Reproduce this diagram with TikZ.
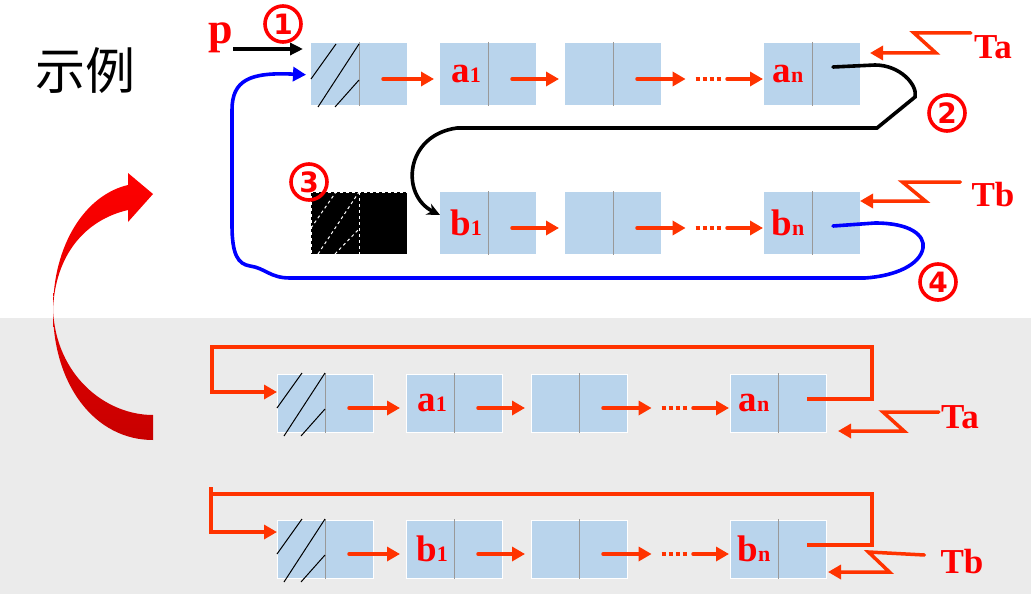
\documentclass[tikz,border=0pt]{standalone}
\usepackage{fontspec}
\setmainfont{Liberation Serif}
\newfontfamily\cjk{Noto Sans CJK SC}
\newfontfamily\numfont{DejaVu Sans}
\usepackage{tikz}
\usetikzlibrary{positioning}
\usetikzlibrary{arrows.meta}
\definecolor{cellblue}{RGB}{185,212,236}
\definecolor{linkred}{RGB}{255,51,0}
\definecolor{bggray}{RGB}{235,235,235}
\definecolor{loopblue}{RGB}{0,0,255}
\definecolor{darkred}{RGB}{200,0,0}
\newcommand\cellname[2]{#1{\fontsize{22}{22}\selectfont #2}}

\begin{document}
\begin{tikzpicture}[x=1pt, y=-1pt,
    cell/.style = {minimum width=96pt, minimum height=62pt, fill=cellblue, inner sep=0pt, outer sep=0pt},
    cellb/.style = {cell, minimum height=58pt, draw=white, line width=1pt},
    tag/.style = {text=red, inner sep=0pt, font=\fontsize{37}{37}\selectfont\bfseries},
    num/.style = {circle, draw=red, line width=3.6pt, minimum size=36pt, inner sep=0pt, text=red, font=\numfont\fontsize{28}{28}\selectfont\bfseries},
    link/.style = {draw=linkred, line width=3.5pt, line cap=round, -{Triangle[length=13pt,width=14pt]}},
    dots/.style = {minimum width=25pt, inner sep=0pt},
    divider/.style = {draw=gray!80, line width=1pt}
  ]
  \useasboundingbox (0,0) rectangle (1031,594);
  \fill[bggray] (0,318) rectangle (1031,594);

  % big curved arrow on the left
  \path[top color=red, middle color=red, bottom color=darkred]
    (128,185) .. controls (85,195) and (53,245) .. (53,310)
    .. controls (53,385) and (95,440) .. (153,440) -- (153,415)
    .. controls (105,415) and (56,375) .. (53,310)
    .. controls (55,255) and (85,220) .. (128,210)
    -- (128,222) -- (153,194) -- (128,173) -- cycle;
  \node[font=\cjk\fontsize{50}{50}\selectfont] (title) at (85,71) {示例};

  % list A and list B
  \node[cell] (h1) at (359,74) {};
  \node[cell, right=33pt of h1] (a1) {};
  \node[cell, right=29pt of a1] (c1) {};
  \node[cell, right=103pt of c1] (n1) {};
  \node[cell, fill=black, draw=white, dashed, line width=1pt] (x3) at (359,223) {};
  \node[cell, right=33pt of x3] (b1) {};
  \node[cell, right=29pt of b1] (c2) {};
  \node[cell, right=103pt of c2] (n2) {};

  % lists after joining
  \node[cellb] (hC) at (325,403) {};
  \node[cellb, right=33pt of hC] (aC) {};
  \node[cellb, right=29pt of aC] (cC) {};
  \node[cellb, right=103pt of cC] (nC) {};
  \node[cellb] (hD) at (325,549) {};
  \node[cellb, right=33pt of hD] (bD) {};
  \node[cellb, right=29pt of bD] (cD) {};
  \node[cellb, right=103pt of cD] (nD) {};

  \foreach \n in {h1,a1,c1,n1,b1,c2,n2,hC,aC,cC,nC,hD,bD,cD,nD}
    \draw[divider] ([yshift=1pt]\n.north) -- ([yshift=-1pt]\n.south);
  \draw[white, dashed, line width=1pt] (x3.north) -- (x3.south);

  \foreach \h in {h1,hC,hD} {
    \begin{scope}[shift={(\h.center)}, line width=1pt]
      \draw (-48,5) -- (-23,-30);
      \draw (-41,33) -- (0,-30);
      \draw (-24,33) -- (0,6);
    \end{scope}
  }
  \begin{scope}[shift={(x3.center)}, white, dashed, line width=1pt]
    \draw (-48,5) -- (-23,-31);
    \draw (-41,31) -- (0,-31);
    \draw (-24,31) -- (0,6);
  \end{scope}

  % labels in the cells
  \node[tag] (la1) at ([xshift=-22pt]a1.center) {\cellname{a}{1}};
  \node[tag] (lan) at ([xshift=-24pt]n1.center) {\cellname{a}{n}};
  \node[tag] (lb1) at ([xshift=-22pt]b1.center) {\cellname{b}{1}};
  \node[tag] (lbn) at ([xshift=-24pt]n2.center) {\cellname{b}{n}};
  \node[tag] (laC) at ([xshift=-22pt]aC.center) {\cellname{a}{1}};
  \node[tag] (lanC) at ([xshift=-24pt]nC.center) {\cellname{a}{n}};
  \node[tag] (lbD) at ([xshift=-22pt]bD.center) {\cellname{b}{1}};
  \node[tag] (lbnD) at ([xshift=-24pt]nD.center) {\cellname{b}{n}};

  % next pointers
  \foreach \u/\v in {h1/a1, a1/c1, b1/c2, hC/aC, aC/cC, hD/bD, bD/cD}
    \draw[link, shorten >=6pt] ([xshift=24pt,yshift=-5pt]\u.center) -- ([yshift=-5pt]\v.west);
  \foreach \c/\n/\d in {c1/n1/dA, c2/n2/dB, cC/nC/dC, cD/nD/dD} {
    \node[dots, left=43pt of \n, yshift=-5pt] (\d) {};
    \draw[link, shorten >=10pt] ([xshift=24pt,yshift=-5pt]\c.center) -- (\d.west);
    \draw[linkred, line width=4pt, dash pattern=on 4pt off 3pt] (\d.west) -- (\d.east);
    \draw[link, shorten <=6pt, shorten >=1pt] (\d.east) -- ([yshift=-5pt]\n.west);
  }

  % head pointer p and tail pointers
  \node[tag, font=\fontsize{44}{44}\selectfont\bfseries, anchor=base] (p) at (221,44) {p};
  \draw[black, line width=3.5pt, -{Triangle[length=13pt,width=12pt]}, shorten >=8pt]
    ([yshift=-5pt]p.base east) -- ([yshift=25pt]h1.west);

  \node[tag, font=\fontsize{35}{35}\selectfont\bfseries] (TaA) at (993,47) {Ta};
  \node[tag, font=\fontsize{35}{35}\selectfont\bfseries] (TbA) at (993,195) {Tb};
  \node[tag, font=\fontsize{35}{35}\selectfont\bfseries] (TaC) at (960,417) {Ta};
  \node[tag, font=\fontsize{35}{35}\selectfont\bfseries] (TbD) at (962,562) {Tb};
  \draw[link] ([xshift=-3pt,yshift=14pt]TaA.west) -- ++(-57,0) -- ++(22,20) -- ([xshift=10pt,yshift=21pt]n1.east);
  \draw[link] ([xshift=-11pt,yshift=13pt]TbA.west) -- ++(-58,0) -- ++(23,19) -- ([yshift=22pt]n2.east);
  \draw[link] ([xshift=-2pt,yshift=5pt]TaC.west) -- ++(-56,0) -- ++(21,19) -- ([xshift=12pt,yshift=-28pt]nC.east);
  \draw[link] ([xshift=-16pt,yshift=7pt]TbD.west) -- ++(-56,-3) -- ++(21,20) -- ([xshift=2pt,yshift=-23pt]nD.east);

  % circular links below
  \draw[link, line cap=butt] ([xshift=29pt,yshift=4pt]nC.center) -- ++(65,0) |- (212,347) |- ([yshift=11pt]hC.west);
  \draw[link, line cap=butt] ([xshift=29pt,yshift=4pt]nD.center) -- ++(65,0) |- (211,494) |- ([yshift=17pt]hD.west);
  \draw[linkred, line width=3.5pt] (211,487) -- (211,494);

  % steps of the join
  \draw[black, line width=3.6pt, line cap=round, -{Stealth[length=13pt,width=12pt]}]
    ([xshift=21pt,yshift=7pt]n1.center) -- (875,65) .. controls (900,65) and (918,85) .. (915,97)
    -- (877,128) -- (457,128) .. controls (405,135) and (400,195) .. ([yshift=8pt]b1.west);
  \draw[loopblue, line width=3.6pt, line cap=round, -{Triangle[length=13pt,width=14pt]}, shorten >=5pt]
    ([xshift=21pt,yshift=-3pt]n2.center) -- (875,223) .. controls (910,223) and (925,235) .. (923,248)
    .. controls (920,265) and (895,276) .. (865,278) -- (290,278)
    .. controls (270,278) and (265,268) .. (250,266) .. controls (238,264) and (232,255) .. (232,225)
    -- (232,110) .. controls (232,80) and (250,72) .. ([yshift=-1pt]h1.west);

  \node[num] (m1) at (283,24) {1};
  \node[num] (m2) at (947,113) {2};
  \node[num] (m3) at (309,182) {3};
  \node[num] (m4) at (938,282) {4};
\end{tikzpicture}
\end{document}
